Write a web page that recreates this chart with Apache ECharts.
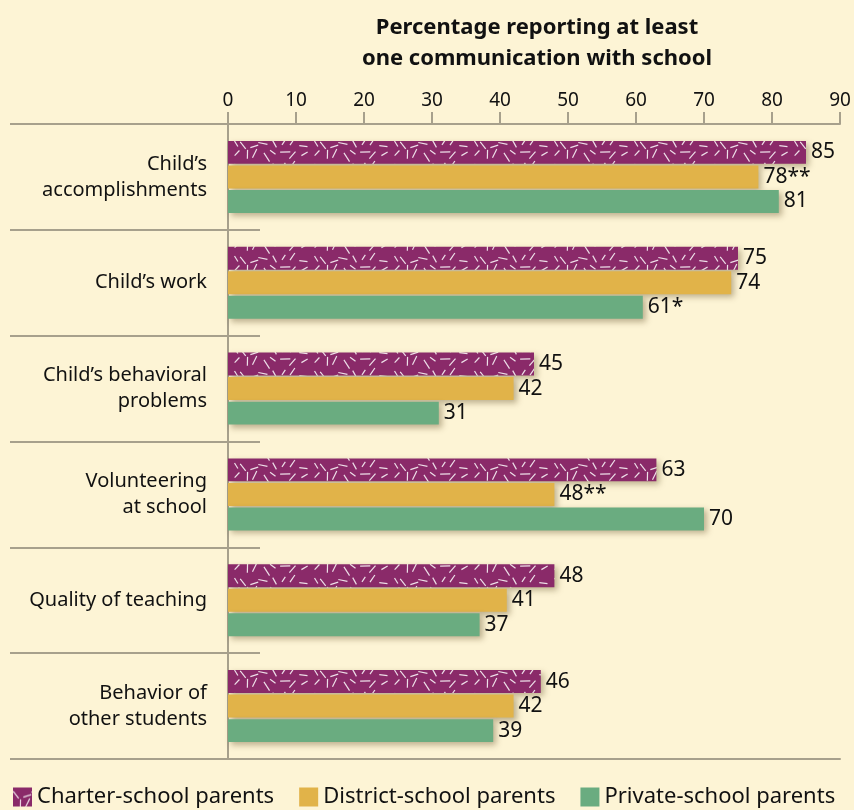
<!DOCTYPE html>
<html>
<head>
<meta charset="utf-8">
<script src="https://cdn.jsdelivr.net/npm/echarts@6/dist/echarts.min.js"></script>
<style>
html,body{margin:0;padding:0;background:#fdf4d5;}
#chart{width:854px;height:810px;}
</style>
</head>
<body>
<div id="chart"></div>
<script>
var categories = ["Child\u2019s\naccomplishments", "Child\u2019s work", "Child\u2019s behavioral\nproblems", "Volunteering\nat school", "Quality of teaching", "Behavior of\nother students"];
var charterValues = [85, 75, 45, 63, 48, 46];
var districtValues = [78, 74, 42, 48, 41, 42];
var privateValues = [81, 61, 31, 70, 37, 39];
var charterMarks = ["", "", "", "", "", ""];
var districtMarks = ["**", "", "", "**", "", ""];
var privateMarks = ["", "*", "", "", "", ""];
var seriesNames = ["Charter-school parents", "District-school parents", "Private-school parents"];
var xTicks = [0, 10, 20, 30, 40, 50, 60, 70, 80, 90];

var FONT = "Noto Sans";
var PURPLE = "#8a2a69", GOLD = "#e1b349", GREEN = "#6aac80", BG = "#fdf4d5", LINE = "#a7a08c";

// decorative dash pattern for charter bars
function makePattern() {
  var c = document.createElement("canvas");
  c.width = 80; c.height = 23;
  var ctx = c.getContext("2d");
  ctx.fillStyle = PURPLE;
  ctx.fillRect(0, 0, c.width, c.height);
  ctx.strokeStyle = "rgba(255,255,255,0.85)";
  ctx.lineWidth = 1.2;
  ctx.lineCap = "butt";
  var s = 987654;
  function rnd() { s = (s * 1103515245 + 12345) % 2147483648; return s / 2147483648; }
  var cols = 8, rows = 2;
  for (var r = 0; r < rows; r++) {
    for (var q = 0; q < cols; q++) {
      var x = (q + 0.2 + rnd() * 0.6) * c.width / cols;
      var y = (r + 0.2 + rnd() * 0.6) * c.height / rows;
      var a = rnd() * Math.PI, l = 6 + rnd() * 5;
      var dx = Math.cos(a) * l / 2, dy = Math.sin(a) * l / 2;
      for (var ox = -c.width; ox <= c.width; ox += c.width) {
        for (var oy = -c.height; oy <= c.height; oy += c.height) {
          ctx.beginPath();
          ctx.moveTo(x - dx + ox, y - dy + oy);
          ctx.lineTo(x + dx + ox, y + dy + oy);
          ctx.stroke();
        }
      }
    }
  }
  return c;
}
var pattern = { image: makePattern(), repeat: "repeat" };

var chart = echarts.init(document.getElementById("chart"));
var shadow = { shadowColor: "rgba(70,50,10,0.35)", shadowBlur: 6, shadowOffsetX: 3, shadowOffsetY: 3 };

function labelFor(values, marks) {
  return {
    show: true, position: "right", distance: 5,
    fontFamily: FONT, fontSize: 21, color: "#111",
    formatter: function (p) { return values[p.dataIndex] + marks[p.dataIndex]; }
  };
}

var option = {
  backgroundColor: BG,
  animation: false,
  textStyle: { fontFamily: FONT },
  title: {
    text: "Percentage reporting at least\none communication with school",
    left: 532, textAlign: "center", top: 7,
    textStyle: { fontFamily: FONT, fontSize: 22, fontWeight: "bold", color: "#111", lineHeight: 31 }
  },
  legend: {
    top: 781, left: 8, itemWidth: 19, itemHeight: 19, itemGap: 25, icon: "rect",
    textStyle: { fontFamily: FONT, fontSize: 22, color: "#111" },
    data: seriesNames
  },
  grid: [
    { left: 228, right: 14, top: 124, bottom: 51 },
    { left: 10, width: 250, top: 124, bottom: 51 }
  ],
  xAxis: [
    {
      type: "value", gridIndex: 0, position: "top", min: 0, max: 90, interval: 10,
      axisLine: { show: true, lineStyle: { color: LINE, width: 2 } },
      axisTick: { show: true, length: 12, lineStyle: { color: LINE, width: 2 } },
      axisLabel: { fontFamily: FONT, fontSize: 19, color: "#111", margin: 14,
        formatter: function (v) { return xTicks.indexOf(v) >= 0 ? String(v) : ""; } },
      splitLine: { show: false }
    },
    {
      type: "value", gridIndex: 0, position: "bottom", min: 0, max: 90,
      axisLine: { show: true, lineStyle: { color: LINE, width: 2 } },
      axisTick: { show: false }, axisLabel: { show: false }, splitLine: { show: false }
    },
    {
      type: "value", gridIndex: 1, min: 0, max: 1,
      axisLine: { show: false }, axisTick: { show: false }, axisLabel: { show: false }, splitLine: { show: false }
    }
  ],
  yAxis: [
    {
      type: "category", gridIndex: 0, inverse: true, data: categories,
      axisLine: { show: true, lineStyle: { color: LINE, width: 2 } },
      axisTick: { show: false },
      axisLabel: { fontFamily: FONT, fontSize: 20, color: "#111", margin: 21, lineHeight: 26, align: "right" }
    },
    {
      type: "category", gridIndex: 1, inverse: true, data: categories,
      axisLine: { show: false }, axisTick: { show: false }, axisLabel: { show: false },
      splitLine: { show: true, lineStyle: { color: LINE, width: 2 } }
    }
  ],
  series: [
    {
      name: seriesNames[0], type: "bar", xAxisIndex: 0, yAxisIndex: 0,
      data: charterValues, barGap: "7%", barCategoryGap: "32%",
      itemStyle: Object.assign({ color: pattern }, shadow),
      label: labelFor(charterValues, charterMarks)
    },
    {
      name: seriesNames[1], type: "bar", xAxisIndex: 0, yAxisIndex: 0,
      data: districtValues, barGap: "7%", barCategoryGap: "32%",
      itemStyle: Object.assign({ color: GOLD }, shadow),
      label: labelFor(districtValues, districtMarks)
    },
    {
      name: seriesNames[2], type: "bar", xAxisIndex: 0, yAxisIndex: 0,
      data: privateValues, barGap: "7%", barCategoryGap: "32%",
      itemStyle: Object.assign({ color: GREEN }, shadow),
      label: labelFor(privateValues, privateMarks)
    }
  ]
};
chart.setOption(option);
</script>
</body>
</html>
